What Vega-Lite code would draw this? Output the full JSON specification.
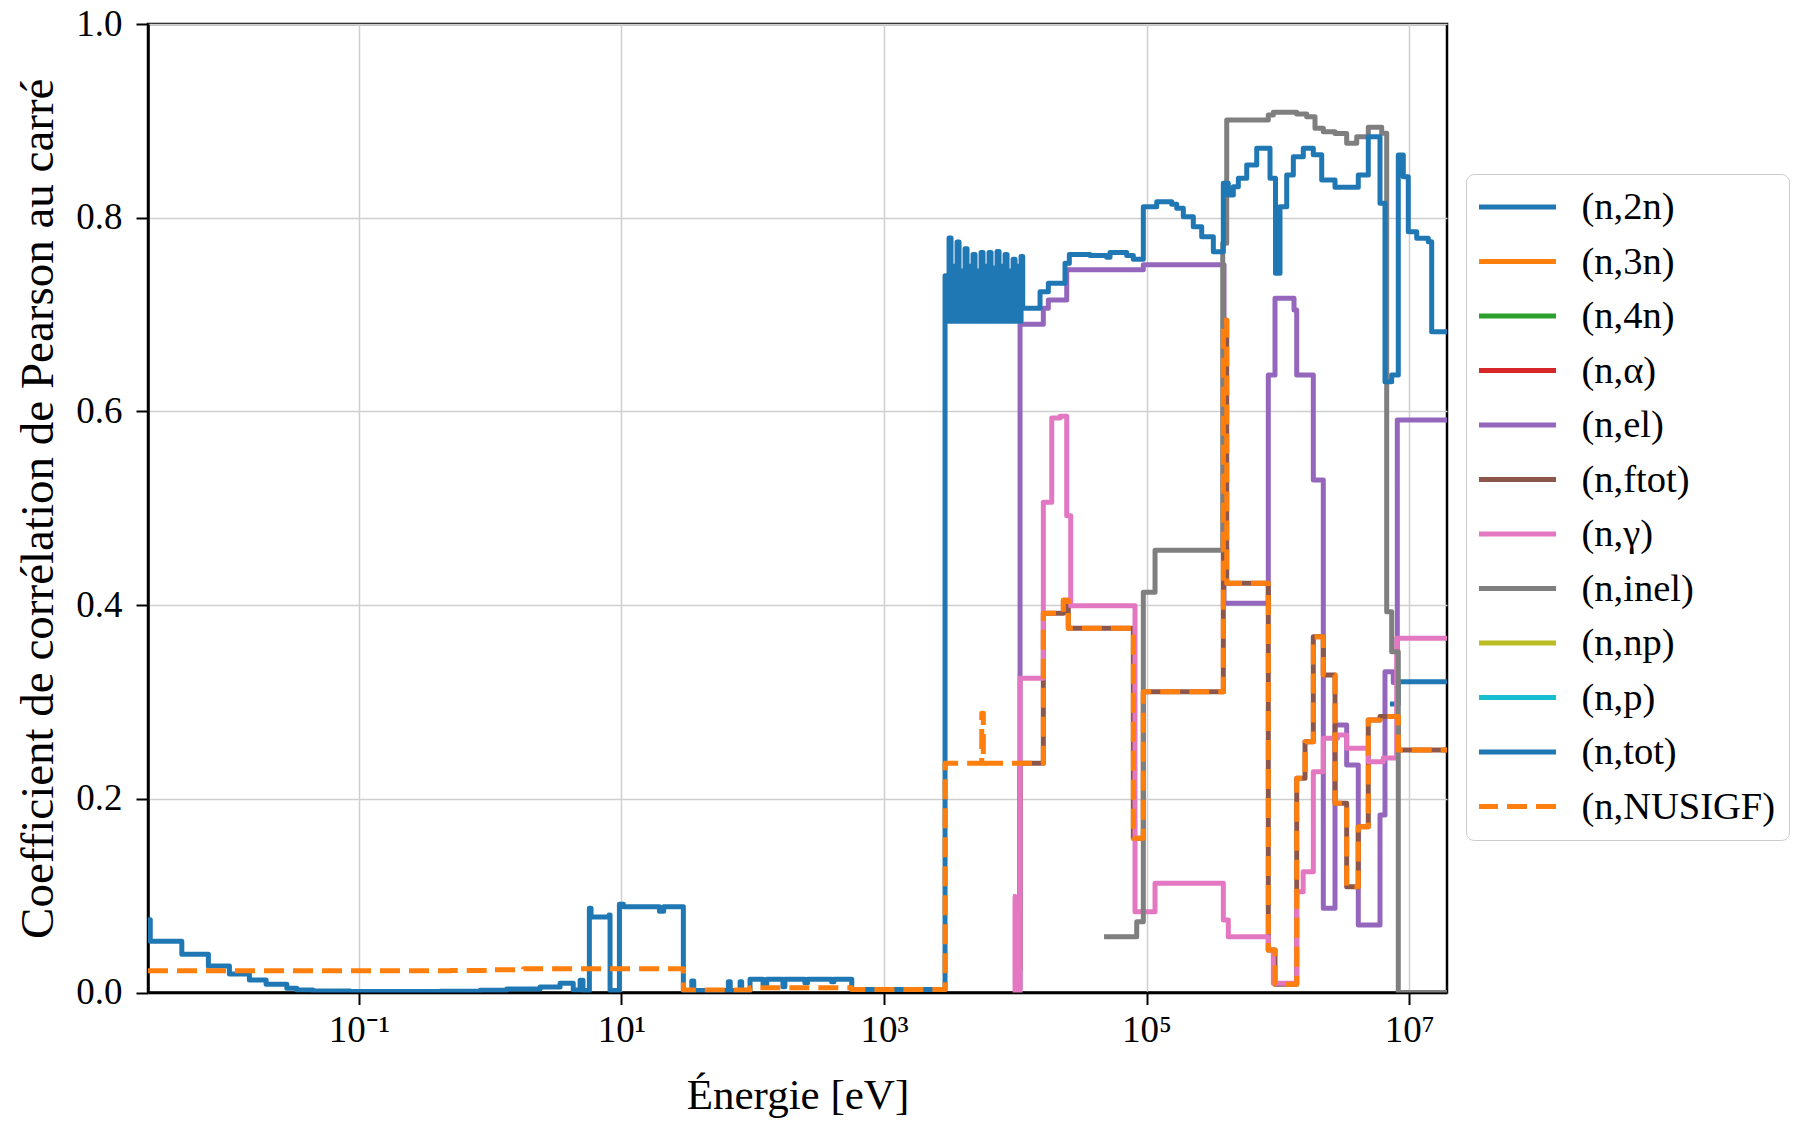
{
"$schema": "https://vega.github.io/schema/vega-lite/v6.json",
"width": 1299, "height": 968.5,
"autosize": "none",
"padding": {"left": 148, "top": 24, "right": 348, "bottom": 128.5},
"background": "white",
"config": {"view": {"stroke": "black", "strokeWidth": 2.5}, "font": "Liberation Serif"},
"data": {"values": [
{"s":"(n,tot)","e":0.00248,"v":0.075},{"s":"(n,tot)","e":0.00258,"v":0.053},{"s":"(n,tot)","e":0.004487,"v":0.0394},{"s":"(n,tot)","e":0.007153,"v":0.0274},{"s":"(n,tot)","e":0.01034,"v":0.019},{"s":"(n,tot)","e":0.01468,"v":0.0129},{"s":"(n,tot)","e":0.01968,"v":0.0085},{"s":"(n,tot)","e":0.02829,"v":0.0043},{"s":"(n,tot)","e":0.03371,"v":0.0026},{"s":"(n,tot)","e":0.04487,"v":0.0015},{"s":"(n,tot)","e":0.0859,"v":0.001},{"s":"(n,tot)","e":0.416,"v":0.0012},{"s":"(n,tot)","e":0.8391,"v":0.0022},{"s":"(n,tot)","e":1.34,"v":0.0035},{"s":"(n,tot)","e":2.403,"v":0.0057},{"s":"(n,tot)","e":3.414,"v":0.0095},{"s":"(n,tot)","e":4.3,"v":0.0025},{"s":"(n,tot)","e":4.848,"v":0.0126},{"s":"(n,tot)","e":5.1,"v":0.002},{"s":"(n,tot)","e":5.705,"v":0.087},{"s":"(n,tot)","e":5.877,"v":0.078},{"s":"(n,tot)","e":8.06,"v":0.08},{"s":"(n,tot)","e":8.2,"v":0.002},{"s":"(n,tot)","e":9.66,"v":0.091},{"s":"(n,tot)","e":10.36,"v":0.0886},{"s":"(n,tot)","e":19.5,"v":0.084},{"s":"(n,tot)","e":21,"v":0.0886},{"s":"(n,tot)","e":29.66,"v":0.002},{"s":"(n,tot)","e":34.38,"v":0.012},{"s":"(n,tot)","e":35.6,"v":0.002},{"s":"(n,tot)","e":65.3,"v":0.011},{"s":"(n,tot)","e":67.5,"v":0.002},{"s":"(n,tot)","e":80.2,"v":0.011},{"s":"(n,tot)","e":82.5,"v":0.002},{"s":"(n,tot)","e":95.5,"v":0.0137},{"s":"(n,tot)","e":120,"v":0.008},{"s":"(n,tot)","e":128,"v":0.0137},{"s":"(n,tot)","e":170,"v":0.006},{"s":"(n,tot)","e":176,"v":0.0137},{"s":"(n,tot)","e":250,"v":0.01},{"s":"(n,tot)","e":262,"v":0.0137},{"s":"(n,tot)","e":400,"v":0.011},{"s":"(n,tot)","e":415,"v":0.0137},{"s":"(n,tot)","e":568.6,"v":0.003},
{"s":"(n,tot)","e":2920,"v":0.74},{"s":"(n,tot)","e":3024,"v":0.693},{"s":"(n,tot)","e":3132,"v":0.779},{"s":"(n,tot)","e":3244,"v":0.693},{"s":"(n,tot)","e":3360,"v":0.75},{"s":"(n,tot)","e":3480,"v":0.693},{"s":"(n,tot)","e":3604,"v":0.775},{"s":"(n,tot)","e":3733,"v":0.693},{"s":"(n,tot)","e":3866,"v":0.745},{"s":"(n,tot)","e":4004,"v":0.693},{"s":"(n,tot)","e":4147,"v":0.768},{"s":"(n,tot)","e":4296,"v":0.693},{"s":"(n,tot)","e":4449,"v":0.75},{"s":"(n,tot)","e":4608,"v":0.693},{"s":"(n,tot)","e":4772,"v":0.762},{"s":"(n,tot)","e":4943,"v":0.693},{"s":"(n,tot)","e":5119,"v":0.745},{"s":"(n,tot)","e":5302,"v":0.693},{"s":"(n,tot)","e":5492,"v":0.764},{"s":"(n,tot)","e":5688,"v":0.693},{"s":"(n,tot)","e":5891,"v":0.75},{"s":"(n,tot)","e":6101,"v":0.693},{"s":"(n,tot)","e":6319,"v":0.764},{"s":"(n,tot)","e":6545,"v":0.693},{"s":"(n,tot)","e":6779,"v":0.748},{"s":"(n,tot)","e":7021,"v":0.693},{"s":"(n,tot)","e":7271,"v":0.765},{"s":"(n,tot)","e":7531,"v":0.693},{"s":"(n,tot)","e":7800,"v":0.75},{"s":"(n,tot)","e":8078,"v":0.693},{"s":"(n,tot)","e":8367,"v":0.762},{"s":"(n,tot)","e":8666,"v":0.693},{"s":"(n,tot)","e":8975,"v":0.745},{"s":"(n,tot)","e":9296,"v":0.693},{"s":"(n,tot)","e":9628,"v":0.757},{"s":"(n,tot)","e":9972,"v":0.693},{"s":"(n,tot)","e":10328,"v":0.75},{"s":"(n,tot)","e":10697,"v":0.693},{"s":"(n,tot)","e":11078,"v":0.76},
{"s":"(n,tot)","e":11404,"v":0.7065},{"s":"(n,tot)","e":15450,"v":0.7236},{"s":"(n,tot)","e":17870,"v":0.7323},{"s":"(n,tot)","e":23950,"v":0.7529},{"s":"(n,tot)","e":25830,"v":0.762},{"s":"(n,tot)","e":37130,"v":0.761},{"s":"(n,tot)","e":49750,"v":0.7592},{"s":"(n,tot)","e":52720,"v":0.764},{"s":"(n,tot)","e":70670,"v":0.761},{"s":"(n,tot)","e":79330,"v":0.757},{"s":"(n,tot)","e":94540,"v":0.8114},{"s":"(n,tot)","e":119600,"v":0.8165},{"s":"(n,tot)","e":155600,"v":0.814},{"s":"(n,tot)","e":169800,"v":0.8097},{"s":"(n,tot)","e":190700,"v":0.801},{"s":"(n,tot)","e":227200,"v":0.7907},{"s":"(n,tot)","e":263300,"v":0.7804},{"s":"(n,tot)","e":322800,"v":0.7649},{"s":"(n,tot)","e":384600,"v":0.8355},{"s":"(n,tot)","e":419800,"v":0.8234},{"s":"(n,tot)","e":458300,"v":0.832},{"s":"(n,tot)","e":500400,"v":0.8407},{"s":"(n,tot)","e":579800,"v":0.8544},{"s":"(n,tot)","e":690900,"v":0.8716},{"s":"(n,tot)","e":872200,"v":0.8407},{"s":"(n,tot)","e":960000,"v":0.7426},{"s":"(n,tot)","e":1039000,"v":0.8114},{"s":"(n,tot)","e":1169000,"v":0.8441},{"s":"(n,tot)","e":1313000,"v":0.863},{"s":"(n,tot)","e":1564000,"v":0.8716},{"s":"(n,tot)","e":1864000,"v":0.865},{"s":"(n,tot)","e":2160000,"v":0.8389},{"s":"(n,tot)","e":2727000,"v":0.8314},{"s":"(n,tot)","e":4102000,"v":0.8441},{"s":"(n,tot)","e":4889000,"v":0.8836},{"s":"(n,tot)","e":6003000,"v":0.8149},{"s":"(n,tot)","e":6552000,"v":0.6307},{"s":"(n,tot)","e":7369000,"v":0.6376},{"s":"(n,tot)","e":8274000,"v":0.8647},{"s":"(n,tot)","e":9033000,"v":0.8423},{"s":"(n,tot)","e":9860000,"v":0.7855},{"s":"(n,tot)","e":11430000,"v":0.7787},{"s":"(n,tot)","e":14000000,"v":0.7752},{"s":"(n,tot)","e":14860000,"v":0.6823},{"s":"(n,tot)","e":19440000,"v":0.6823},
{"s":"(n,el)","e":9623,"v":0.003},{"s":"(n,el)","e":10880,"v":0.69},{"s":"(n,el)","e":16370,"v":0.7065},{"s":"(n,el)","e":17870,"v":0.715},{"s":"(n,el)","e":24670,"v":0.7463},{"s":"(n,el)","e":94540,"v":0.7515},{"s":"(n,el)","e":389400,"v":0.4019},{"s":"(n,el)","e":846500,"v":0.6376},{"s":"(n,el)","e":952100,"v":0.7168},{"s":"(n,el)","e":1329000,"v":0.7047},{"s":"(n,el)","e":1393000,"v":0.6376},{"s":"(n,el)","e":1864000,"v":0.5292},{"s":"(n,el)","e":2221000,"v":0.0869},{"s":"(n,el)","e":2727000,"v":0.2762},{"s":"(n,el)","e":3346000,"v":0.2349},{"s":"(n,el)","e":4102000,"v":0.0697},{"s":"(n,el)","e":6003000,"v":0.1833},{"s":"(n,el)","e":6552000,"v":0.3312},{"s":"(n,el)","e":7578000,"v":0.32},{"s":"(n,el)","e":8130000,"v":0.5911},{"s":"(n,el)","e":19440000,"v":0.5911},
{"s":"(n,γ)","e":9623,"v":0.099},{"s":"(n,γ)","e":9965,"v":0.0},{"s":"(n,γ)","e":10880,"v":0.3244},{"s":"(n,γ)","e":16370,"v":0.5061},{"s":"(n,γ)","e":18970,"v":0.5931},{"s":"(n,γ)","e":21940,"v":0.595},{"s":"(n,γ)","e":24670,"v":0.4923},{"s":"(n,γ)","e":26460,"v":0.3994},{"s":"(n,γ)","e":81730,"v":0.0834},{"s":"(n,γ)","e":116100,"v":0.1127},{"s":"(n,γ)","e":384600,"v":0.0749},{"s":"(n,γ)","e":419800,"v":0.0576},{"s":"(n,γ)","e":846500,"v":0.044},{"s":"(n,γ)","e":924000,"v":0.0095},{"s":"(n,γ)","e":1393000,"v":0.104},{"s":"(n,γ)","e":1560000,"v":0.1247},{"s":"(n,γ)","e":1864000,"v":0.228},{"s":"(n,γ)","e":2221000,"v":0.2625},{"s":"(n,γ)","e":2850000,"v":0.266},{"s":"(n,γ)","e":3346000,"v":0.2521},{"s":"(n,γ)","e":4889000,"v":0.2383},{"s":"(n,γ)","e":6360000,"v":0.242},{"s":"(n,γ)","e":8044000,"v":0.3657},{"s":"(n,γ)","e":19440000,"v":0.3657},
{"s":"(n,inel)","e":47480,"v":0.0576},{"s":"(n,inel)","e":84200,"v":0.0731},{"s":"(n,inel)","e":94540,"v":0.4132},{"s":"(n,inel)","e":116100,"v":0.4567},{"s":"(n,inel)","e":380600,"v":0.7735},{"s":"(n,inel)","e":408200,"v":0.9008},{"s":"(n,inel)","e":846500,"v":0.906},{"s":"(n,inel)","e":924000,"v":0.9088},{"s":"(n,inel)","e":1393000,"v":0.907},{"s":"(n,inel)","e":1660000,"v":0.9043},{"s":"(n,inel)","e":1920000,"v":0.8923},{"s":"(n,inel)","e":2221000,"v":0.8888},{"s":"(n,inel)","e":2727000,"v":0.887},{"s":"(n,inel)","e":3346000,"v":0.8768},{"s":"(n,inel)","e":3990000,"v":0.8836},{"s":"(n,inel)","e":4889000,"v":0.8933},{"s":"(n,inel)","e":6185000,"v":0.8871},{"s":"(n,inel)","e":6751000,"v":0.3932},{"s":"(n,inel)","e":7369000,"v":0.3519},{"s":"(n,inel)","e":8274000,"v":0.0},{"s":"(n,inel)","e":19440000,"v":0.0},
{"s":"(n,ftot)","e":9623,"v":0.023},{"s":"(n,ftot)","e":10880,"v":0.2366},{"s":"(n,ftot)","e":16370,"v":0.3915},{"s":"(n,ftot)","e":23250,"v":0.405},{"s":"(n,ftot)","e":25360,"v":0.376},{"s":"(n,ftot)","e":79330,"v":0.1592},{"s":"(n,ftot)","e":94540,"v":0.3106},{"s":"(n,ftot)","e":384600,"v":0.694},{"s":"(n,ftot)","e":408200,"v":0.4225},{"s":"(n,ftot)","e":846500,"v":0.0439},{"s":"(n,ftot)","e":952100,"v":0.0086},{"s":"(n,ftot)","e":1393000,"v":0.2211},{"s":"(n,ftot)","e":1612000,"v":0.259},{"s":"(n,ftot)","e":1864000,"v":0.3674},{"s":"(n,ftot)","e":2221000,"v":0.3278},{"s":"(n,ftot)","e":2727000,"v":0.1953},{"s":"(n,ftot)","e":3346000,"v":0.1092},{"s":"(n,ftot)","e":4102000,"v":0.1712},{"s":"(n,ftot)","e":4889000,"v":0.2814},{"s":"(n,ftot)","e":6003000,"v":0.285},{"s":"(n,ftot)","e":8274000,"v":0.2504},{"s":"(n,ftot)","e":19440000,"v":0.2504},
{"s":"(n,NUSIGF)","e":0.00248,"v":0.0225},{"s":"(n,NUSIGF)","e":0.5,"v":0.0228},{"s":"(n,NUSIGF)","e":1.0,"v":0.0235},{"s":"(n,NUSIGF)","e":1.8,"v":0.0245},{"s":"(n,NUSIGF)","e":29.66,"v":0.0025},{"s":"(n,NUSIGF)","e":95.5,"v":0.005},{"s":"(n,NUSIGF)","e":568.6,"v":0.003},{"s":"(n,NUSIGF)","e":2920,"v":0.2366},{"s":"(n,NUSIGF)","e":5558,"v":0.2883},{"s":"(n,NUSIGF)","e":5715,"v":0.2366},{"s":"(n,NUSIGF)","e":16370,"v":0.3915},{"s":"(n,NUSIGF)","e":23250,"v":0.405},{"s":"(n,NUSIGF)","e":25360,"v":0.376},{"s":"(n,NUSIGF)","e":79330,"v":0.1592},{"s":"(n,NUSIGF)","e":94540,"v":0.3106},{"s":"(n,NUSIGF)","e":384600,"v":0.694},{"s":"(n,NUSIGF)","e":408200,"v":0.4225},{"s":"(n,NUSIGF)","e":846500,"v":0.0439},{"s":"(n,NUSIGF)","e":952100,"v":0.0086},{"s":"(n,NUSIGF)","e":1393000,"v":0.2211},{"s":"(n,NUSIGF)","e":1612000,"v":0.259},{"s":"(n,NUSIGF)","e":1864000,"v":0.3674},{"s":"(n,NUSIGF)","e":2221000,"v":0.3278},{"s":"(n,NUSIGF)","e":2727000,"v":0.1953},{"s":"(n,NUSIGF)","e":3346000,"v":0.1092},{"s":"(n,NUSIGF)","e":4102000,"v":0.1712},{"s":"(n,NUSIGF)","e":4889000,"v":0.2814},{"s":"(n,NUSIGF)","e":6003000,"v":0.285},{"s":"(n,NUSIGF)","e":8274000,"v":0.2504},{"s":"(n,NUSIGF)","e":19440000,"v":0.2504},
{"s":"(n,2n)","e":7152000,"v":0.298},{"s":"(n,2n)","e":8274000,"v":0.3209},{"s":"(n,2n)","e":19440000,"v":0.3209}
]},
"encoding": {
"x": {"field": "e", "type": "quantitative",
  "scale": {"type": "log", "domain": [0.00248, 19440000], "nice": false},
  "axis": {"values": [0.1, 10, 1000, 100000, 10000000],
    "labelExpr": "datum.value < 1 ? '10⁻¹' : datum.value < 100 ? '10¹' : datum.value < 10000 ? '10³' : datum.value < 1000000 ? '10⁵' : '10⁷'",
    "grid": true, "gridColor": "#cfcfcf", "gridWidth": 1.5,
    "domainColor": "black", "domainWidth": 2.5, "tickColor": "black", "tickWidth": 2, "tickSize": 12,
    "labelFont": "Liberation Serif", "labelFontSize": 37, "labelColor": "black", "labelPadding": 8,
    "labelFlush": false, "labelOverlap": false,
    "title": "Énergie [eV]", "titleFont": "Liberation Serif", "titleFontSize": 43, "titleFontWeight": "normal", "titleColor": "black",
    "titleX": 649.5, "titleY": 115.5, "titleBaseline": "alphabetic", "titleAlign": "center"}},
"y": {"field": "v", "type": "quantitative",
  "scale": {"domain": [0, 1], "nice": false},
  "axis": {"values": [0, 0.2, 0.4, 0.6, 0.8, 1.0], "format": ".1f",
    "grid": true, "gridColor": "#cfcfcf", "gridWidth": 1.5,
    "domainColor": "black", "domainWidth": 2.5, "tickColor": "black", "tickWidth": 2, "tickSize": 12,
    "labelFont": "Liberation Serif", "labelFontSize": 37, "labelColor": "black", "labelPadding": 14,
    "labelFlush": false, "labelOverlap": false,
    "title": "Coefficient de corrélation de Pearson au carré", "titleFont": "Liberation Serif", "titleFontSize": 47, "titleFontWeight": "normal", "titleColor": "black",
    "titleX": -96, "titleY": 484.25, "titleBaseline": "alphabetic", "titleAlign": "center", "titleAngle": -90}},
"color": {"field": "s", "type": "nominal",
  "scale": {"domain": ["(n,2n)","(n,3n)","(n,4n)","(n,α)","(n,el)","(n,ftot)","(n,γ)","(n,inel)","(n,np)","(n,p)","(n,tot)","(n,NUSIGF)"],
    "range": ["#1f77b4","#ff7f0e","#2ca02c","#d62728","#9467bd","#8c564b","#e377c2","#7f7f7f","#bcbd22","#17becf","#1f77b4","#ff7f0e"]},
  "legend": {"orient": "none", "legendX": 1318, "legendY": 150, "title": null, "symbolType": "stroke", "symbolSize": 6084, "symbolStrokeWidth": 5, "symbolOffset": -3.5,
    "labelFont": "Liberation Serif", "labelFontSize": 38.5, "labelColor": "black", "labelOffset": 23, "labelLimit": 400,
    "padding": 13, "clipHeight": 40, "rowPadding": 14.5, "strokeColor": "#cccccc", "cornerRadius": 8, "fillColor": "white"}},
"strokeDash": {"field": "s", "type": "nominal",
  "scale": {"domain": ["(n,2n)","(n,3n)","(n,4n)","(n,α)","(n,el)","(n,ftot)","(n,γ)","(n,inel)","(n,np)","(n,p)","(n,tot)","(n,NUSIGF)"],
    "range": [[1,0],[1,0],[1,0],[1,0],[1,0],[1,0],[1,0],[1,0],[1,0],[1,0],[1,0],[20,9]]},
  "legend": {"orient": "none", "legendX": 1318, "legendY": 150, "title": null, "symbolType": "stroke", "symbolSize": 6084, "symbolStrokeWidth": 5, "symbolOffset": -3.5,
    "labelFont": "Liberation Serif", "labelFontSize": 38.5, "labelColor": "black", "labelOffset": 23, "labelLimit": 400,
    "padding": 13, "clipHeight": 40, "rowPadding": 14.5, "strokeColor": "#cccccc", "cornerRadius": 8, "fillColor": "white"}}
},
"layer": [
{"transform": [{"filter": {"field": "s", "equal": "(n,2n)"}}], "mark": {"type": "line", "interpolate": "step-after", "strokeWidth": 5, "strokeJoin": "round", "strokeCap": "butt", "clip": true}},
{"transform": [{"filter": {"field": "s", "equal": "(n,el)"}}], "mark": {"type": "line", "interpolate": "step-after", "strokeWidth": 5, "strokeJoin": "round", "strokeCap": "butt", "clip": true}},
{"transform": [{"filter": {"field": "s", "equal": "(n,ftot)"}}], "mark": {"type": "line", "interpolate": "step-after", "strokeWidth": 5, "strokeJoin": "round", "strokeCap": "butt", "clip": true}},
{"transform": [{"filter": {"field": "s", "equal": "(n,γ)"}}], "mark": {"type": "line", "interpolate": "step-after", "strokeWidth": 5, "strokeJoin": "round", "strokeCap": "butt", "clip": true}},
{"transform": [{"filter": {"field": "s", "equal": "(n,inel)"}}], "mark": {"type": "line", "interpolate": "step-after", "strokeWidth": 5, "strokeJoin": "round", "strokeCap": "butt", "clip": true}},
{"transform": [{"filter": {"field": "s", "equal": "(n,tot)"}}], "mark": {"type": "line", "interpolate": "step-after", "strokeWidth": 5, "strokeJoin": "round", "strokeCap": "butt", "clip": true}},
{"transform": [{"filter": {"field": "s", "equal": "(n,NUSIGF)"}}], "mark": {"type": "line", "interpolate": "step-after", "strokeWidth": 5, "strokeJoin": "round", "strokeCap": "butt", "clip": true}}
]
}
